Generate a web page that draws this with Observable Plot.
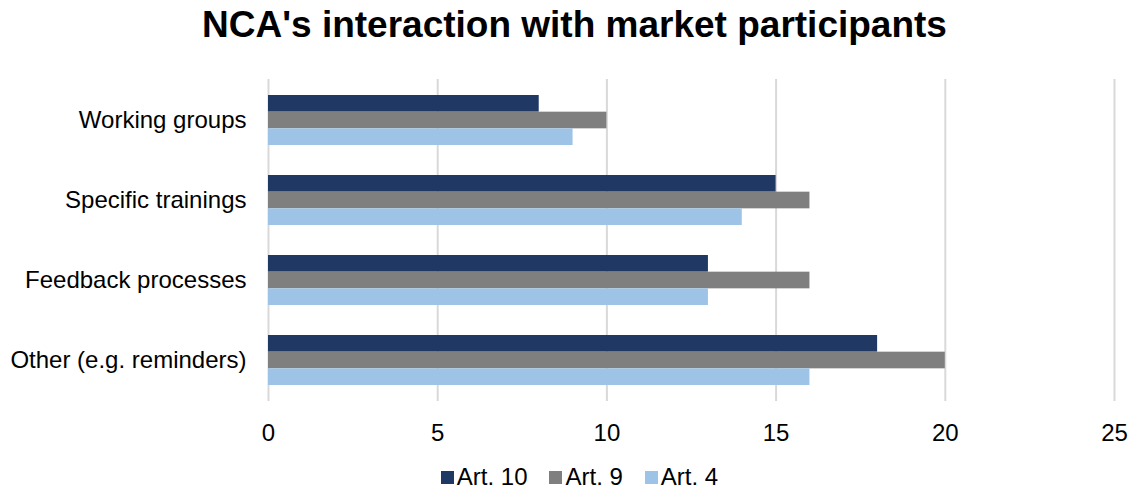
<!DOCTYPE html>
<html>
<head>
<meta charset="utf-8">
<script src="https://cdn.jsdelivr.net/npm/d3@7"></script>
<script src="https://cdn.jsdelivr.net/npm/@observablehq/plot@0.6"></script>
<style>
  body { margin: 0; background: #fff; font-family: "Liberation Sans", Arial, sans-serif; }
  #wrap { width: 1135px; }
  h1 { margin: 0; height: 56px; line-height: 50px; font-size: 37px; font-weight: bold; text-align: center; color: #000; padding-left: 14px; box-sizing: border-box; }
  #legend { display: flex; justify-content: center; gap: 22px; margin-top: 17px; font-size: 24px; line-height: 28px; color: #000; padding-left: 24px; }
  .item { display: flex; align-items: center; }
  .sw { width: 13px; height: 13px; margin-right: 3px; }
</style>
</head>
<body>
<div id="wrap">
  <h1>NCA's interaction with market participants</h1>
  <div id="chart"></div>
  <div id="legend"></div>
</div>
<script>
const categories = ["Working groups", "Specific trainings", "Feedback processes", "Other (e.g. reminders)"];
const seriesNames = ["Art. 10", "Art. 9", "Art. 4"];
const seriesColors = ["#203864", "#7F7F7F", "#9DC3E6"];
const art10 = [8, 15, 13, 18];
const art9 = [10, 16, 16, 20];
const art4 = [9, 14, 13, 16];
const xTicks = [0, 5, 10, 15, 20, 25];

const seriesValues = [art10, art9, art4];
const bandH = 50;
const barH = bandH / 3;

const marks = [Plot.gridX(xTicks, {stroke: "#D9D9D9", strokeOpacity: 1, strokeWidth: 2})];
seriesValues.forEach((vals, k) => {
  const rows = categories.map((c, i) => ({category: c, value: vals[i], series: seriesNames[k]}));
  marks.push(Plot.barX(rows, {
    x: "value", y: "category", fill: "series",
    insetTop: k * barH, insetBottom: (2 - k) * barH
  }));
});

const chart = Plot.plot({
  width: 1135,
  height: 390,
  marginTop: 23,
  marginBottom: 45,
  marginLeft: 268,
  marginRight: 21,
  style: {fontSize: "24px", fontFamily: "'Liberation Sans', Arial, sans-serif", color: "#000", background: "#fff"},
  x: {domain: [0, 25], ticks: xTicks, tickSize: 0, tickPadding: 22, label: null},
  y: {domain: categories, paddingInner: 0.379, paddingOuter: 0.186, tickSize: 0, tickPadding: 22, label: null},
  color: {domain: seriesNames, range: seriesColors},
  marks
});
document.getElementById("chart").appendChild(chart);

const legend = document.getElementById("legend");
seriesNames.forEach((n, i) => {
  const it = document.createElement("div");
  it.className = "item";
  const sw = document.createElement("div");
  sw.className = "sw";
  sw.style.background = seriesColors[i];
  it.appendChild(sw);
  const t = document.createElement("span");
  t.textContent = n;
  it.appendChild(t);
  legend.appendChild(it);
});
</script>
</body>
</html>
